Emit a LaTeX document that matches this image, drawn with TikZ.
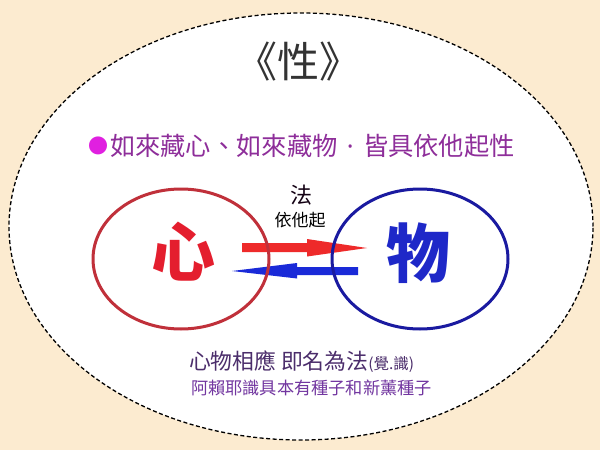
\documentclass[tikz,border=0pt]{standalone}
\usepackage{fontspec}
\setmainfont{Noto Sans CJK TC}
\newfontfamily\latinfont{Noto Sans}
\usetikzlibrary{shapes.geometric}
\definecolor{bgcream}{HTML}{FCEBD0}
\definecolor{ringred}{HTML}{C0303A}
\definecolor{ringblue}{HTML}{1A1AA0}
\definecolor{xinred}{HTML}{E41E2E}
\definecolor{wublue}{HTML}{1E28C8}
\definecolor{arrred}{HTML}{EE2A2A}
\definecolor{arrblue}{HTML}{1A2AD8}
\definecolor{txtpurple}{HTML}{8E2E9A}
\definecolor{dotmag}{HTML}{E020E0}
\definecolor{linea}{HTML}{4B2D6B}
\definecolor{lineb}{HTML}{7236A0}
\definecolor{titlegray}{HTML}{333333}
\tikzset{
  txt/.style={inner sep=0pt, outer sep=0pt, anchor=center},
  ring/.style={ellipse, line width=3pt, minimum width=176pt, minimum height=140pt, inner sep=0pt},
}
\newcommand{\middot}{\hbox to 1em{\hfil{\latinfont·}\hfil}}
\begin{document}
\begin{tikzpicture}[x=1pt,y=-1pt]
\useasboundingbox (0,0) rectangle (600,450);
\fill[bgcream] (0,0) rectangle (600,450);
\node[ellipse, draw=black, dash pattern=on 4pt off 2.5pt, line width=1.3pt, fill=white, minimum width=584pt, minimum height=427pt, inner sep=0pt] (outer) at (301,226.5) {};
% title
\node[txt, text=titlegray, font=\fontsize{42}{48}\selectfont] (title) at (298,62) {《性》};
% subtitle
\node[txt, text=dotmag, font=\fontsize{20}{24}\selectfont] (dot) at (98,146) {●};
\node[txt, anchor=west, text=txtpurple, font=\fontsize{25.3}{28}\selectfont] (sub) at (110,146) {如來藏心、如來藏物\middot 皆具依他起性};
% arrows
\fill[arrred] (242,243) -- (307,243) -- (307,239) -- (367,248) -- (307,256.5) -- (307,252) -- (242,252) -- cycle;
\fill[arrblue] (358,267) -- (297,267) -- (297,263) -- (232,271) -- (297,278.5) -- (297,275) -- (358,275) -- cycle;
% circles
\node[ring, draw=ringred] (xin) at (181,259) {};
\node[ring, draw=ringblue] (wu) at (420,259) {};
\node[txt, text=xinred, font=\fontsize{64}{70}\selectfont\bfseries] (xint) at (183,252) {心};
\node[txt, text=wublue, font=\fontsize{64}{70}\selectfont\bfseries] (wut) at (418,253) {物};
% labels
\node[txt, text=black!85!violet, font=\fontsize{22}{26}\selectfont] (fa) at (301,195) {法};
\node[txt, text=black, font=\fontsize{17}{20}\selectfont] (yi) at (300,220) {依他起};
% bottom
\node[txt, anchor=west, text=linea, font=\fontsize{21.8}{24}\selectfont] (b1) at (189,362) {心物相應 即名為法{\fontsize{15.5}{17}\selectfont(覺.識)}};
\node[txt, anchor=west, text=lineb, font=\fontsize{17.2}{20}\selectfont] (b2) at (191,388) {阿賴耶識具本有種子和新薰種子};
\end{tikzpicture}
\end{document}
